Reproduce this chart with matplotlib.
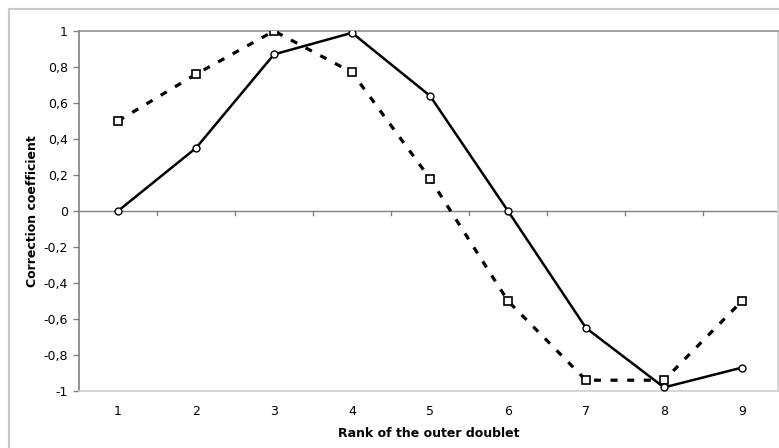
import matplotlib
matplotlib.use("Agg")
import matplotlib.pyplot as plt
import matplotlib.patches as mpatches

# --- Data --------------------------------------------------------------------

ranks = [1, 2, 3, 4, 5, 6, 7, 8, 9]
solid_values = [0.0, 0.35, 0.87, 0.99, 0.64, 0.0, -0.65, -0.98, -0.87]
dashed_values = [0.5, 0.76, 1.0, 0.77, 0.18, -0.5, -0.94, -0.94, -0.5]
y_ticks = [-1, -0.8, -0.6, -0.4, -0.2, 0, 0.2, 0.4, 0.6, 0.8, 1]

W, H = 779, 448

# --- Figure ------------------------------------------------------------------

fig = plt.figure(figsize=(W / 100, H / 100), dpi=100)

# outer chart frame (Excel chart area)
fig.patches.append(mpatches.Rectangle((9 / W, -0.1), 1.2, (H - 9) / H + 0.1,
                                      transform=fig.transFigure, fill=False,
                                      edgecolor='#c8c8c8', linewidth=1.5))

left, right, top, bottom = 79, 778, 31, 391
ax = fig.add_axes([left / W, (H - bottom) / H, (right - left) / W, (bottom - top) / H])

ax.plot(ranks, dashed_values, color='black', linestyle=(0, (2.2, 3.0)), linewidth=2.3,
        marker='s', markersize=5.5, markerfacecolor='white', markeredgecolor='black',
        markeredgewidth=1.2, zorder=3)
ax.plot(ranks, solid_values, color='black', linestyle='-', linewidth=1.8,
        marker='o', markersize=5, markerfacecolor='white', markeredgecolor='black',
        markeredgewidth=1.0, zorder=4)

ax.set_xlim(0.5, 0.5 + (right - left) / 78)
ax.set_ylim(-1, 1)

# zero line with category separators
ax.axhline(0, color='#808080', linewidth=1.0, zorder=1)
for xs in [r + 0.5 for r in ranks[:-1]]:
    ax.plot([xs, xs], [-0.02, 0.0], color='#808080', linewidth=1.0, zorder=1)

ax.set_yticks(y_ticks)
ax.set_yticklabels([('%g' % v).replace('.', ',') for v in y_ticks], fontsize=9)
ax.set_xticks(ranks)
ax.set_xticklabels([str(r) for r in ranks], fontsize=9)
ax.tick_params(axis='x', length=0, pad=10)
ax.tick_params(axis='y', length=4, width=1, color='#808080', pad=4)

ax.spines['left'].set_color('#808080')
ax.spines['top'].set_color('#909090')
ax.spines['right'].set_color('#d0d0d0')
ax.spines['bottom'].set_color('#d0d0d0')
for s in ax.spines.values():
    s.set_linewidth(1.2)

fig.text(429 / W, 1 - 433 / H, 'Rank of the outer doublet', ha='center', va='center',
         fontsize=9, fontweight='bold')
fig.text(33 / W, 1 - 211 / H, 'Correction coefficient', ha='center', va='center',
         rotation=90, fontsize=9, fontweight='bold')

plt.savefig('out.png', dpi=100)
